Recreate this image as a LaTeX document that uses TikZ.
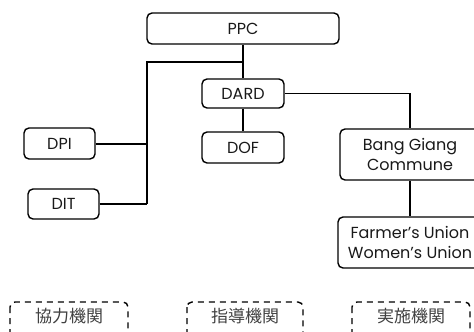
\documentclass[tikz,border=0pt]{standalone}
\usepackage{fontspec}
\setmainfont{Poppins}
\newfontfamily\jp{Noto Sans CJK JP}
\begin{document}
\begin{tikzpicture}[x=1pt,y=-1pt,
  orgbox/.style={draw, line width=1.4pt, rounded corners=5pt, inner sep=0pt,
    align=center, font=\fontsize{16}{19.5}\selectfont, text=black!90},
  conn/.style={line width=1.2pt},
  thickconn/.style={line width=2pt},
  dashbox/.style={draw, line width=1.4pt, dash pattern=on 6pt off 5pt, rounded corners=5pt},
  cjklabel/.style={inner sep=0pt, font=\jp\fontsize{17}{20}\selectfont, text=black!75}]
\useasboundingbox (0,0) rectangle (474,332);
\node[orgbox, minimum width=192pt, minimum height=31pt] (ppc) at (243,28.5) {PPC};
\node[orgbox, minimum width=82pt, minimum height=29pt] (dard) at (243,93.5) {DARD};
\node[orgbox, minimum width=82pt, minimum height=31pt] (dof) at (243,147.5) {DOF};
\node[orgbox, minimum width=71pt, minimum height=31pt] (dpi) at (59.5,143.5) {DPI};
\node[orgbox, minimum width=71pt, minimum height=30pt] (dit) at (63.5,204) {DIT};
\node[orgbox, minimum width=140pt, minimum height=51pt] (bang) at (410,154.5) {Bang Giang\\Commune};
\node[orgbox, minimum width=144pt, minimum height=51pt] (farmer) at (410,242.5) {Farmer’s Union\\Women’s Union};
\coordinate (jtop) at (243,62);
\coordinate (jleft) at (147,62);
\draw[thickconn] (ppc.south) -- (jtop);
\draw[conn] (jtop) -- (dard.north);
\draw[conn] (jtop) -- (jleft) -- (jleft |- dpi.east);
\draw[thickconn] (jleft |- dpi.east) -- (jleft |- dit.east);
\draw[thickconn] (dpi.east) -- (dpi.east -| jleft);
\draw[thickconn] (dit.east) -- (dit.east -| jleft);
\draw[conn] (dard.south) -- (dof.north);
\draw[conn] (dard.east) -| (bang.north);
\draw[conn] (bang.south) -- (farmer.north);
\draw[dashbox] (10,302) rectangle (128,338);
\draw[dashbox] (187,302) rectangle (303,338);
\draw[dashbox] (352,302) rectangle (470,338);
\node[cjklabel] (l1) at (69,316) {協力機関};
\node[cjklabel] (l2) at (245,316) {指導機関};
\node[cjklabel] (l3) at (411,316) {実施機関};
\end{tikzpicture}
\end{document}
